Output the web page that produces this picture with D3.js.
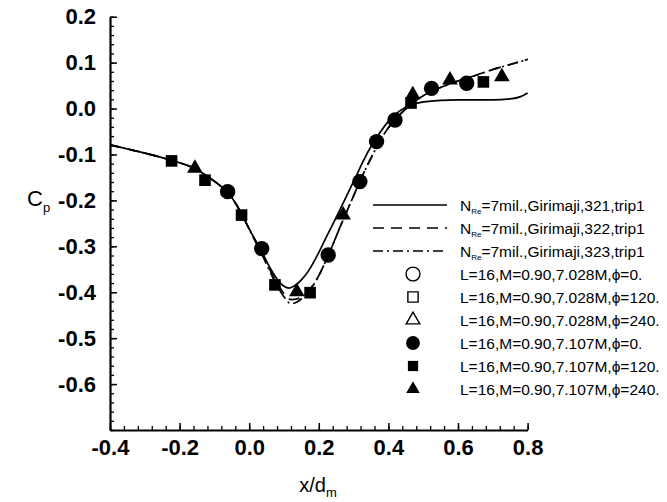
<!DOCTYPE html>
<html><head><meta charset="utf-8">
<script src="https://cdn.jsdelivr.net/npm/d3@7"></script>
<style>body{margin:0;background:#fff}svg{display:block}text{font-family:"Liberation Sans",Arial,sans-serif}</style>
</head><body><svg id="c" width="667" height="502"></svg>
<script>
// ---- data ----
const xTicks = [-0.4,-0.2,0.0,0.2,0.4,0.6,0.8];
const yTicks = [0.2,0.1,0.0,-0.1,-0.2,-0.3,-0.4,-0.5,-0.6];
const curve321 = [[-0.4,-0.079],[-0.35,-0.088],[-0.3,-0.097],[-0.25,-0.107],[-0.2,-0.118],[-0.15,-0.133],[-0.12,-0.148],[-0.09,-0.164],[-0.06,-0.184],[-0.04,-0.205],[-0.02,-0.232],[0.0,-0.262],[0.02,-0.29],[0.04,-0.318],[0.06,-0.347],[0.08,-0.371],[0.1,-0.387],[0.115,-0.391],[0.13,-0.386],[0.15,-0.373],[0.17,-0.354],[0.19,-0.328],[0.21,-0.298],[0.232,-0.264],[0.256,-0.228],[0.28,-0.19],[0.305,-0.151],[0.328,-0.114],[0.352,-0.08],[0.376,-0.052],[0.4,-0.028],[0.424,-0.01],[0.45,0.003],[0.49,0.013],[0.55,0.018],[0.6,0.019],[0.7,0.019],[0.75,0.021],[0.78,0.026],[0.8,0.034]];
const curve322 = [[-0.4,-0.079],[-0.35,-0.088],[-0.3,-0.097],[-0.25,-0.107],[-0.2,-0.118],[-0.15,-0.133],[-0.12,-0.148],[-0.09,-0.164],[-0.06,-0.184],[-0.04,-0.205],[-0.02,-0.232],[0.0,-0.262],[0.02,-0.291],[0.04,-0.32],[0.06,-0.352],[0.08,-0.38],[0.1,-0.403],[0.12,-0.416],[0.14,-0.414],[0.16,-0.404],[0.18,-0.388],[0.2,-0.364],[0.22,-0.332],[0.24,-0.297],[0.26,-0.26],[0.28,-0.225],[0.3,-0.19],[0.32,-0.155],[0.34,-0.123],[0.36,-0.093],[0.38,-0.065],[0.4,-0.042],[0.42,-0.024],[0.44,-0.008],[0.46,0.006],[0.48,0.018],[0.5,0.028],[0.55,0.046],[0.6,0.06],[0.65,0.072],[0.7,0.085],[0.75,0.096],[0.8,0.107]];
const curve323 = [[-0.4,-0.079],[-0.35,-0.088],[-0.3,-0.097],[-0.25,-0.107],[-0.2,-0.118],[-0.15,-0.133],[-0.12,-0.148],[-0.09,-0.164],[-0.06,-0.184],[-0.04,-0.206],[-0.02,-0.233],[0.0,-0.263],[0.02,-0.293],[0.04,-0.323],[0.06,-0.356],[0.08,-0.386],[0.1,-0.41],[0.12,-0.425],[0.14,-0.42],[0.16,-0.407],[0.18,-0.389],[0.2,-0.364],[0.22,-0.332],[0.24,-0.297],[0.26,-0.26],[0.28,-0.225],[0.3,-0.19],[0.32,-0.155],[0.34,-0.123],[0.36,-0.093],[0.38,-0.065],[0.4,-0.042],[0.42,-0.024],[0.44,-0.008],[0.46,0.006],[0.48,0.018],[0.5,0.028],[0.55,0.046],[0.6,0.06],[0.65,0.072],[0.7,0.085],[0.75,0.096],[0.8,0.107]];
const filledCircle = [[-0.062,-0.181],[0.036,-0.305],[0.227,-0.319],[0.318,-0.159],[0.366,-0.072],[0.419,-0.025],[0.524,0.044],[0.625,0.055]];
const filledSquare = [[-0.223,-0.114],[-0.127,-0.156],[-0.022,-0.232],[0.074,-0.384],[0.175,-0.401],[0.465,0.012],[0.673,0.058]];
const filledTriangle = [[-0.156,-0.130],[0.137,-0.399],[0.27,-0.232],[0.47,0.03],[0.577,0.062],[0.726,0.069]];
const legendLabels = ["7mil.,Girimaji,321,trip1","7mil.,Girimaji,322,trip1","7mil.,Girimaji,323,trip1",
  "L=16,M=0.90,7.028M,\u03d5=0.","L=16,M=0.90,7.028M,\u03d5=120.","L=16,M=0.90,7.028M,\u03d5=240.",
  "L=16,M=0.90,7.107M,\u03d5=0.","L=16,M=0.90,7.107M,\u03d5=120.","L=16,M=0.90,7.107M,\u03d5=240."];

// ---- chart ----
const svg = d3.select("#c");
const x = d3.scaleLinear().domain([-0.4,0.8]).range([110,527.6]);
const y = d3.scaleLinear().domain([-0.7,0.2]).range([430,16.7]);
const fmt = d => d.toFixed(1);

// minor ticks
svg.append("g").attr("transform","translate(0,430)")
  .call(d3.axisBottom(x).tickValues(d3.range(-0.4,0.8001,0.04)).tickSizeInner(-4).tickSizeOuter(0).tickFormat(""))
  .call(g=>g.select(".domain").remove()).selectAll("line").attr("stroke-width",1.3);
svg.append("g").attr("transform","translate(110,0)")
  .call(d3.axisLeft(y).tickValues(d3.range(-0.7,0.2001,0.02)).tickSizeInner(-4).tickSizeOuter(0).tickFormat(""))
  .call(g=>g.select(".domain").remove()).selectAll("line").attr("stroke-width",1.3);

const gx = svg.append("g").attr("transform","translate(0,430)")
  .call(d3.axisBottom(x).tickValues(xTicks).tickSizeInner(-7).tickSizeOuter(0).tickPadding(9).tickFormat(fmt));
gx.select(".domain").attr("stroke-width",2.2);
gx.selectAll("line").attr("stroke-width",1.5);
gx.selectAll("text").attr("font-size",22).attr("font-weight","bold").attr("fill","#000");

const gy = svg.append("g").attr("transform","translate(110,0)")
  .call(d3.axisLeft(y).tickValues(yTicks).tickSizeInner(-7).tickSizeOuter(0).tickPadding(14).tickFormat(fmt));
gy.select(".domain").attr("stroke-width",2.2);
gy.selectAll("line").attr("stroke-width",1.5);
gy.selectAll("text").attr("font-size",22).attr("font-weight","bold").attr("fill","#000");

// axis titles
const xt = svg.append("text").attr("x",318).attr("y",492).attr("text-anchor","middle").attr("font-size",20);
xt.append("tspan").text("x/d");
xt.append("tspan").attr("font-size",13).attr("dy",5).text("m");
const yt = svg.append("text").attr("x",27).attr("y",206).attr("font-size",22);
yt.append("tspan").text("C");
yt.append("tspan").attr("font-size",13).attr("dy",6).text("p");

// curves
const line = d3.line().x(d=>x(d[0])).y(d=>y(d[1])).curve(d3.curveMonotoneX);
const styles = [null,"11,7","10,4,2,4"];
[curve321,curve322,curve323].forEach((c,i)=>{
  svg.append("path").datum(c).attr("d",line).attr("fill","none").attr("stroke","#000")
    .attr("stroke-width",1.7).attr("stroke-dasharray",styles[i]);
});

// markers
const sym = {circle:d3.symbol(d3.symbolCircle,185), square:d3.symbol(d3.symbolSquare,135), triangle:d3.symbol(d3.symbolTriangle,105)};
function drawMarks(data,type){
  svg.append("g").selectAll("path").data(data).join("path")
    .attr("transform",d=>`translate(${x(d[0])},${y(d[1])})`).attr("d",sym[type]()).attr("fill","#000");
}
drawMarks(filledSquare,"square");
drawMarks(filledCircle,"circle");
drawMarks(filledTriangle,"triangle");

// legend
const ly0 = 205, lstep = 23;
const lg = svg.append("g");
legendLabels.forEach((t,i)=>{
  const yy = ly0 + i*lstep;
  const tx = lg.append("text").attr("x",460).attr("y",yy+5.5).attr("font-size",15.5).attr("fill","#000");
  if(i<3){
    lg.append("line").attr("x1",373).attr("x2",447).attr("y1",yy).attr("y2",yy).attr("stroke","#000")
      .attr("stroke-width",1.7).attr("stroke-dasharray",styles[i]);
    tx.append("tspan").text("N");
    tx.append("tspan").attr("font-size",8).attr("dy",3).text("Re");
    tx.append("tspan").attr("dy",-3).text("="+t);
  } else {
    tx.text(t);
    const k = (i-3)%3, filled = i>=6;
    const type = ["circle","square","triangle"][k];
    const s = {circle:d3.symbol(d3.symbolCircle,150), square:d3.symbol(d3.symbolSquare,105), triangle:d3.symbol(d3.symbolTriangle,80)}[type];
    lg.append("path").attr("transform",`translate(413,${yy})`).attr("d",s())
      .attr("fill",filled?"#000":"#fff").attr("stroke","#000").attr("stroke-width",filled?0:1.4);
  }
});
</script></body></html>
